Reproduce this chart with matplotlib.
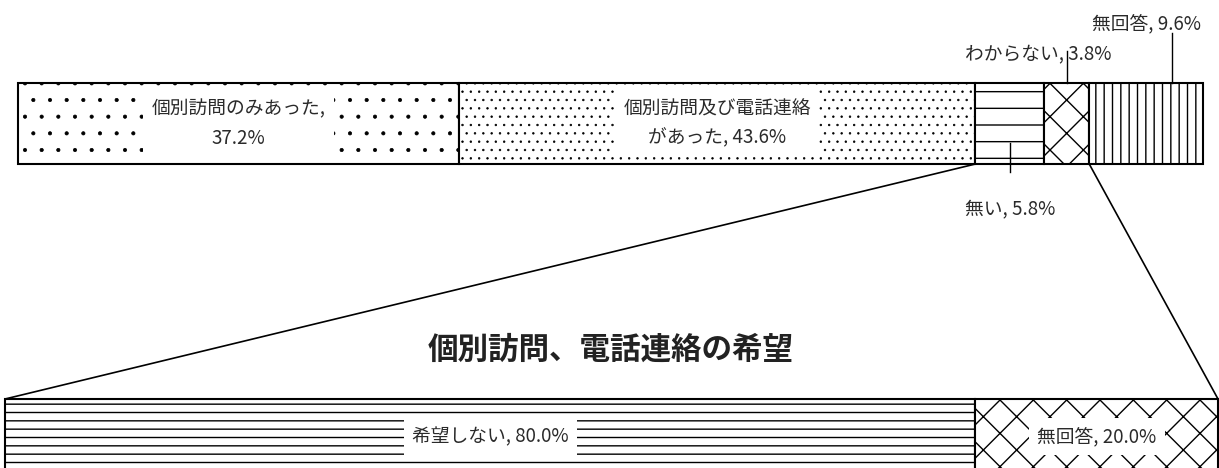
import matplotlib.pyplot as plt
from matplotlib.patches import ConnectionPatch

plt.rcParams['font.family'] = ['Noto Sans CJK JP', 'DejaVu Sans']
plt.rcParams['hatch.linewidth'] = 1.0

# top bar: contact experience
top_labels = ['個別訪問のみあった,\n37.2%', '個別訪問及び電話連絡\nがあった, 43.6%',
              '無い, 5.8%', 'わからない, 3.8%', '無回答, 9.6%']
top_values = [37.2, 43.6, 5.8, 3.8, 9.6]
top_hatches = ['.', '..', '-', 'x', '||']

# bottom bar: wish for visits / calls
bottom_title = '個別訪問、電話連絡の希望'
bottom_labels = ['希望しない, 80.0%', '無回答, 20.0%']
bottom_values = [80.0, 20.0]
bottom_hatches = ['--', 'x']

W, H = 1219, 468
fig = plt.figure(figsize=(W / 100, H / 100), dpi=100)

# axes placed in pixel terms of the reference
ax_top = fig.add_axes([18 / W, 1 - 164 / H, 1185 / W, 81 / H])
ax_bot = fig.add_axes([5 / W, 1 - 479 / H, 1213 / W, 80 / H])

for ax in (ax_top, ax_bot):
    ax.set_xlim(0, 100)
    ax.set_ylim(0, 1)
    ax.axis('off')

text_kw = dict(fontsize=13.5, color='#2a2a2a', ha='center', va='center')
box = dict(facecolor='white', edgecolor='none', pad=6)


def draw_bar(ax, vals, hatches):
    left = 0
    centers = []
    for val, hatch in zip(vals, hatches):
        bars = ax.barh(0.5, val, left=left, height=1, color='white', edgecolor='black',
                       hatch=hatch, linewidth=1.5, clip_on=False)
        if '.' in hatch and hasattr(bars[0], 'set_hatch_linewidth'):
            bars[0].set_hatch_linewidth(0.5)
        centers.append(left + val / 2)
        left += val
    return centers


top_centers = draw_bar(ax_top, top_values, top_hatches)

# labels inside the two big segments
ax_top.text(top_centers[0], 0.5, top_labels[0], bbox=box, linespacing=1.5, **text_kw)
ax_top.text(top_centers[1], 0.5, top_labels[1], bbox=box, linespacing=1.5, **text_kw)

# labels outside with leader lines
ax_top.plot([top_centers[2], top_centers[2]], [0.26, -0.1], color='black', lw=1, clip_on=False)
ax_top.text(top_centers[2], -0.57, top_labels[2], **text_kw)

ax_top.plot([top_centers[3], top_centers[3]], [1.0, 1.4], color='black', lw=1, clip_on=False)
ax_top.text(top_centers[3] - 2.4, 1.35, top_labels[3], **text_kw)

x_na = sum(top_values[:4]) + 7.0
ax_top.plot([x_na, x_na], [1.0, 1.62], color='black', lw=1, clip_on=False)
ax_top.text(top_centers[4], 1.73, top_labels[4], **text_kw)

bot_centers = draw_bar(ax_bot, bottom_values, bottom_hatches)
for c, lab in zip(bot_centers, bottom_labels):
    ax_bot.text(c, 0.53, lab, bbox=box, **text_kw)

# connector lines between bars
x_start = sum(top_values[:2])
x_end = sum(top_values[:4])
for xa, xb in [(x_start, 0), (x_end, 100)]:
    con = ConnectionPatch(xyA=(xa, 0), coordsA=ax_top.transData,
                          xyB=(xb, 1), coordsB=ax_bot.transData,
                          color='black', lw=1.2)
    fig.add_artist(con)

fig.text(611 / W, 1 - 350 / H, bottom_title, fontsize=22, fontweight='bold',
         color='#222222', ha='center', va='center')

fig.savefig('out.png', dpi=100)
